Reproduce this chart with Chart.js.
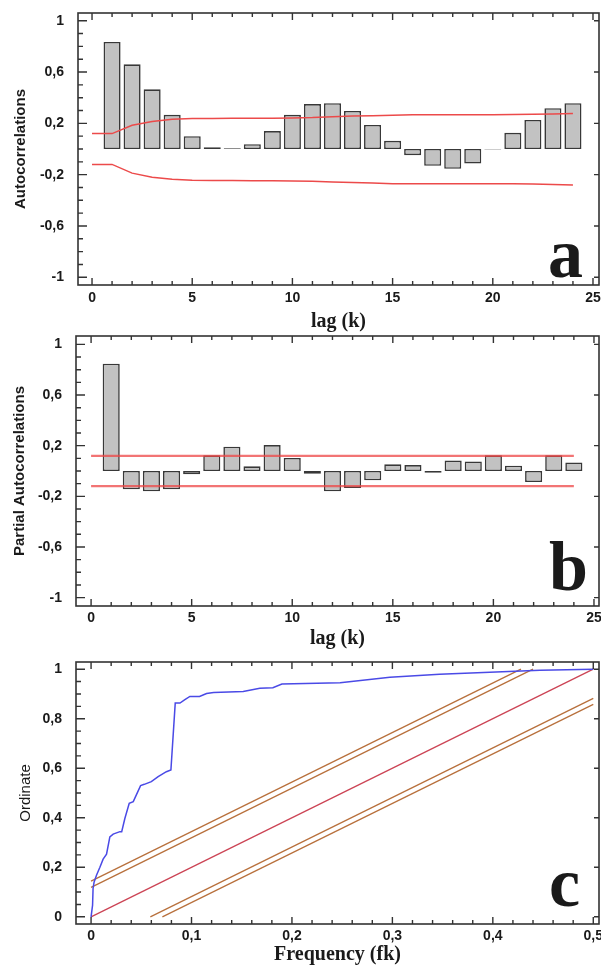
<!DOCTYPE html>
<html>
<head>
<meta charset="utf-8">
<script src="https://cdn.jsdelivr.net/npm/chart.js@4/dist/chart.umd.min.js"></script>
<style>
  html, body { margin: 0; padding: 0; background: #fff; }
  #wrap { position: relative; width: 601px; height: 965px; overflow: hidden; }
  #wrap canvas { position: absolute; left: 0; }
  .tag {
    position: absolute;
    font-family: "Liberation Serif", "DejaVu Serif", serif;
    font-weight: bold;
    font-size: 70px;
    line-height: 1;
    color: #1a1a1a;
  }
</style>
</head>
<body>
<div id="wrap">
  <canvas id="acf" width="601" height="335" style="top:0"></canvas>
  <canvas id="pacf" width="601" height="320" style="top:335px"></canvas>
  <canvas id="cper" width="601" height="310" style="top:655px"></canvas>
  <span class="tag" style="left:548px;top:219px">a</span>
  <span class="tag" style="left:549px;top:532px">b</span>
  <span class="tag" style="left:549px;top:848px">c</span>
</div>
<script>
// ---- data ----
const lags = [1, 2, 3, 4, 5, 6, 7, 8, 9, 10, 11, 12, 13, 14, 15, 16, 17, 18, 19, 20, 21, 22, 23, 24];
const acfValues = [0.834, 0.66, 0.465, 0.266, 0.10, 0.014, 0.006, 0.037, 0.14, 0.266, 0.35, 0.357,
  0.297, 0.188, 0.064, -0.048, -0.131, -0.154, -0.113, -0.003, 0.126, 0.227, 0.318, 0.357];
const pacfValues = [0.847, -0.145, -0.16, -0.145, -0.026, 0.124, 0.192, 0.037, 0.205, 0.103, -0.021, -0.16,
  -0.134, -0.074, 0.053, 0.047, -0.013, 0.082, 0.076, 0.124, 0.042, -0.087, 0.124, 0.068];

// confidence limits, lag 0..24
const limitLags = [0, 1, 2, 3, 4, 5, 6, 7, 8, 9, 10, 11, 12, 13, 14, 15, 16, 17, 18, 19, 20, 21, 22, 23, 24];
const acfUpper = [0.12, 0.12, 0.185, 0.215, 0.232, 0.238, 0.238, 0.239, 0.239, 0.240, 0.242, 0.245, 0.252,
  0.258, 0.260, 0.264, 0.266, 0.266, 0.266, 0.267, 0.267, 0.268, 0.270, 0.273, 0.277];
const acfLower = [-0.12, -0.12, -0.188, -0.22, -0.235, -0.243, -0.245, -0.246, -0.247, -0.248, -0.25, -0.252, -0.258,
  -0.262, -0.265, -0.27, -0.27, -0.27, -0.27, -0.27, -0.27, -0.271, -0.273, -0.276, -0.28];
const pacfUpper = [0.12, 0.12];
const pacfLower = [-0.12, -0.12];
const pacfLimitLags = [0, 24];

// cumulative periodogram
const freq = [0, 0.0015, 0.002, 0.003, 0.0054, 0.0088, 0.012, 0.0154, 0.0187, 0.022, 0.0287, 0.0305, 0.0337,
  0.038, 0.042, 0.0493, 0.053, 0.060, 0.0668, 0.075, 0.0795, 0.0838, 0.0885, 0.0934, 0.0984, 0.108, 0.115,
  0.122, 0.1515, 0.168, 0.181, 0.19, 0.248, 0.2975, 0.347, 0.397, 0.447, 0.5];
const ordinate = [0, 0.047, 0.115, 0.14, 0.168, 0.20, 0.233, 0.253, 0.323, 0.334, 0.344, 0.344, 0.398,
  0.458, 0.465, 0.53, 0.535, 0.546, 0.566, 0.586, 0.593, 0.863, 0.863, 0.877, 0.89, 0.89, 0.902,
  0.906, 0.91, 0.923, 0.925, 0.94, 0.945, 0.967, 0.98, 0.988, 0.996, 1.0];
const diagX = [0, 0.5];
const diagY = [0, 1];
const bandUpperOuterX = [0, 0.428];
const bandUpperOuterY = [0.144, 1];
const bandUpperInnerX = [0, 0.44];
const bandUpperInnerY = [0.119, 1];
const bandLowerInnerX = [0.059, 0.5];
const bandLowerInnerY = [0, 0.882];
const bandLowerOuterX = [0.071, 0.5];
const bandLowerOuterY = [0, 0.858];

// tick labels
const lagTicks = [0, 5, 10, 15, 20, 25];
const corrTicks = [-1, -0.6, -0.2, 0.2, 0.6, 1];
const freqTicks = [0, 0.1, 0.2, 0.3, 0.4, 0.5];
const ordTicks = [0, 0.2, 0.4, 0.6, 0.8, 1];

// ---- helpers ----
const INK = "#1a1a1a";
const tickFont = { family: "'Liberation Sans', Arial, sans-serif", size: 14, weight: "bold" };
const serifTitle = { family: "'Liberation Serif', 'Times New Roman', serif", size: 20, weight: "bold" };

function comma(v) {
  return String(v).replace(".", ",");
}

function pts(xs, ys) {
  return xs.map((x, i) => ({ x, y: ys[i] }));
}

function range(a, b, step) {
  const out = [];
  const n = Math.round((b - a) / step);
  for (let i = 0; i <= n; i++) out.push(a + i * step);
  return out;
}

// frame + inward ticks on all four sides
const framePlugin = {
  id: "frame",
  afterDatasetsDraw(chart, args, opts) {
    const { ctx, chartArea: a, scales } = chart;
    const x = scales.x, y = scales.y;
    ctx.save();
    ctx.strokeStyle = "#333";
    ctx.lineWidth = 1.4;
    ctx.beginPath();
    for (const v of opts.xMinor) {
      const px = x.getPixelForValue(v);
      const major = opts.xMajor.some((m) => Math.abs(m - v) < 1e-9);
      const len = major ? 7 : 4;
      ctx.moveTo(px, a.bottom); ctx.lineTo(px, a.bottom - len);
      ctx.moveTo(px, a.top); ctx.lineTo(px, a.top + len);
    }
    for (const v of opts.yMinor) {
      const py = y.getPixelForValue(v);
      const major = opts.yMajor.some((m) => Math.abs(m - v) < 1e-9);
      ctx.moveTo(a.left, py); ctx.lineTo(a.left + (major ? 9 : 5), py);
      if (major) { ctx.moveTo(a.right, py); ctx.lineTo(a.right - 5, py); }
    }
    ctx.stroke();
    ctx.lineWidth = 1.6;
    ctx.strokeRect(a.left, a.top, a.right - a.left, a.bottom - a.top);
    ctx.restore();
  },
};

function xScale(min, max, ticks, title, labelPad, titlePad, height) {
  return {
    type: "linear", min, max, offset: false,
    grid: { display: false, drawTicks: false, offset: false },
    border: { display: false },
    afterBuildTicks: (s) => { s.ticks = ticks.map((v) => ({ value: v })); },
    afterFit: (s) => { s.height = height; s.paddingLeft = 0; s.paddingRight = 0; },
    ticks: { padding: labelPad, font: tickFont, color: INK, maxRotation: 0, autoSkip: false, callback: (v) => comma(v) },
    title: { display: true, text: title, font: serifTitle, color: INK, padding: { top: 0, bottom: titlePad } },
  };
}

function yScale(min, max, ticks, title, titleFont, titlePad, width) {
  return {
    type: "linear", min, max,
    grid: { display: false, drawTicks: false },
    border: { display: false },
    afterBuildTicks: (s) => { s.ticks = ticks.map((v) => ({ value: v })); },
    afterFit: (s) => { s.width = width; s.paddingTop = 0; s.paddingBottom = 0; },
    ticks: { padding: 14, font: tickFont, color: INK, autoSkip: false, callback: (v) => comma(v) },
    title: { display: true, text: title, font: titleFont, color: INK, padding: { top: titlePad, bottom: 0 } },
  };
}

function barSet(values) {
  return {
    type: "bar",
    data: pts(lags, values),
    backgroundColor: "#c2c2c2",
    borderColor: "#383838",
    borderWidth: 1.6,
    borderSkipped: false,
    barPercentage: 0.85,
    categoryPercentage: 1,
    order: 1,
  };
}

function limitSet(xs, ys, color, width) {
  return {
    type: "line",
    data: pts(xs, ys),
    borderColor: color,
    borderWidth: width,
    pointRadius: 0,
    tension: 0,
    fill: false,
    order: 0,
  };
}

const common = {
  responsive: false,
  animation: false,
  events: [],
  plugins: { legend: { display: false }, tooltip: { enabled: false } },
};

const ySansBold = { family: "'Liberation Sans', Arial, sans-serif", size: 15, weight: "bold" };
const ySans = { family: "'Liberation Sans', Arial, sans-serif", size: 15, weight: "normal" };

// ---- panel a: autocorrelations ----
new Chart(document.getElementById("acf"), {
  type: "bar",
  data: {
    datasets: [
      barSet(acfValues),
      limitSet(limitLags, acfUpper, "#ec4a4a", 1.5),
      limitSet(limitLags, acfLower, "#ec4a4a", 1.5),
    ],
  },
  options: {
    ...common,
    layout: { padding: { top: 13, right: 2, left: 0, bottom: 0 } },
    scales: {
      x: xScale(-0.7, 25.3, lagTicks, "lag (k)", 5, 1, 50),
      y: yScale(-1.06, 1.06, corrTicks, "Autocorrelations", ySansBold, 12, 78),
    },
    plugins: {
      ...common.plugins,
      frame: { xMajor: lagTicks, xMinor: range(0, 25, 1), yMajor: corrTicks, yMinor: range(-1, 1, 0.1) },
    },
  },
  plugins: [framePlugin],
});

// ---- panel b: partial autocorrelations ----
new Chart(document.getElementById("pacf"), {
  type: "bar",
  data: {
    datasets: [
      barSet(pacfValues),
      limitSet(pacfLimitLags, pacfUpper, "rgba(238,70,70,0.75)", 2.2),
      limitSet(pacfLimitLags, pacfLower, "rgba(238,70,70,0.75)", 2.2),
    ],
  },
  options: {
    ...common,
    layout: { padding: { top: 1, right: 2, left: 0, bottom: 0 } },
    scales: {
      x: xScale(-0.75, 25.25, lagTicks, "lag (k)", 4, 4, 49),
      y: yScale(-1.066, 1.066, corrTicks, "Partial Autocorrelations", ySansBold, 11, 76),
    },
    plugins: {
      ...common.plugins,
      frame: { xMajor: lagTicks, xMinor: range(0, 25, 1), yMajor: corrTicks, yMinor: range(-1, 1, 0.1) },
    },
  },
  plugins: [framePlugin],
});

// ---- panel c: cumulative periodogram ----
const brown = "#b8703c";
new Chart(document.getElementById("cper"), {
  type: "line",
  data: {
    datasets: [
      limitSet(bandUpperOuterX, bandUpperOuterY, brown, 1.3),
      limitSet(bandUpperInnerX, bandUpperInnerY, brown, 1.3),
      limitSet(bandLowerInnerX, bandLowerInnerY, brown, 1.3),
      limitSet(bandLowerOuterX, bandLowerOuterY, brown, 1.3),
      limitSet(diagX, diagY, "#cc4455", 1.3),
      { ...limitSet(freq, ordinate, "#4a4ae6", 1.5), order: -1 },
    ],
  },
  options: {
    ...common,
    layout: { padding: { top: 7, right: 2, left: 0, bottom: 0 } },
    scales: {
      x: xScale(-0.015, 0.5057, freqTicks, "Frequency (fk)", 4, -2, 41),
      y: yScale(-0.029, 1.029, ordTicks, "Ordinate", ySans, 17, 76),
    },
    plugins: {
      ...common.plugins,
      frame: { xMajor: freqTicks, xMinor: range(0, 0.5, 0.02), yMajor: ordTicks, yMinor: range(0, 1, 0.05) },
    },
  },
  plugins: [framePlugin],
});
</script>
</body>
</html>
